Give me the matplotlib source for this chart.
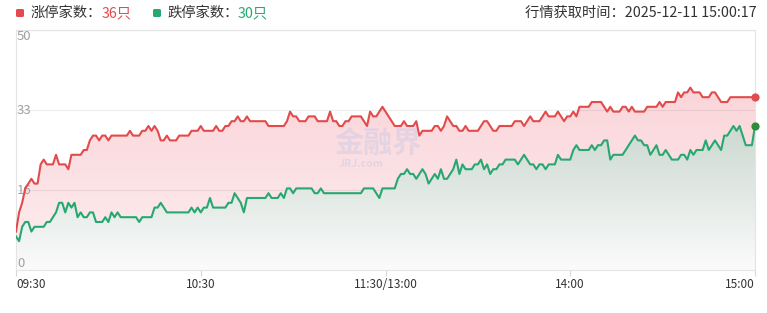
import numpy as np
import matplotlib.pyplot as plt
from matplotlib.patches import PathPatch, FancyBboxPatch
from matplotlib.transforms import IdentityTransform

plt.rcParams['font.family'] = ['Noto Sans CJK SC', 'DejaVu Sans']

# 涨停 / 跌停 家数, one value per trading minute (09:30-11:30, 13:00-15:00)
up_limit = [
    8, 12, 14, 17, 18, 19, 18, 18, 22, 23,
    22, 22, 22, 24, 22, 22, 22, 21, 24, 24,
    24, 24, 25, 25, 27, 28, 28, 27, 28, 28,
    27, 28, 28, 28, 28, 28, 28, 29, 28, 28,
    28, 29, 29, 30, 29, 30, 29, 27, 27, 28,
    27, 27, 27, 28, 28, 28, 28, 29, 29, 29,
    30, 29, 29, 29, 29, 30, 29, 29, 30, 30,
    31, 31, 32, 31, 31, 32, 31, 31, 31, 31,
    31, 31, 30, 30, 30, 30, 30, 30, 31, 33,
    32, 32, 31, 31, 31, 32, 32, 32, 31, 31,
    31, 31, 33, 31, 31, 30, 30, 31, 31, 32,
    32, 32, 32, 31, 30, 33, 32, 32, 33, 34,
    33, 32, 31, 30, 30, 30, 31, 30, 30, 30,
    31, 28, 29, 29, 29, 29, 30, 30, 29, 30,
    32, 31, 30, 30, 29, 29, 30, 29, 29, 29,
    29, 30, 31, 31, 30, 29, 29, 30, 30, 30,
    30, 30, 31, 31, 31, 30, 31, 32, 31, 31,
    31, 32, 33, 32, 32, 32, 33, 32, 31, 32,
    32, 33, 32, 34, 34, 34, 34, 35, 35, 35,
    35, 34, 33, 34, 33, 33, 33, 34, 34, 33,
    34, 33, 33, 33, 33, 34, 34, 34, 34, 35,
    34, 35, 35, 35, 35, 37, 36, 37, 37, 38,
    37, 37, 37, 36, 36, 36, 37, 37, 36, 35,
    35, 35, 36, 36, 36, 36, 36, 36, 36, 36,
    36,
]
down_limit = [
    7, 6, 9, 10, 10, 8, 9, 9, 9, 9,
    10, 10, 11, 12, 14, 14, 12, 14, 13, 14,
    11, 12, 11, 11, 12, 12, 10, 10, 10, 11,
    10, 12, 11, 12, 11, 11, 11, 11, 11, 11,
    10, 11, 11, 11, 11, 13, 13, 14, 13, 12,
    12, 12, 12, 12, 12, 12, 12, 13, 12, 13,
    12, 13, 13, 15, 13, 13, 13, 13, 13, 14,
    14, 16, 15, 14, 12, 15, 15, 15, 15, 15,
    15, 15, 16, 15, 15, 15, 16, 15, 17, 17,
    16, 17, 17, 17, 17, 17, 17, 16, 16, 17,
    16, 16, 16, 16, 16, 16, 16, 16, 16, 16,
    16, 16, 16, 17, 17, 17, 17, 16, 15, 17,
    17, 17, 17, 17, 19, 20, 20, 21, 20, 20,
    19, 20, 21, 20, 18, 19, 20, 19, 21, 19,
    19, 20, 21, 23, 20, 22, 21, 21, 21, 22,
    22, 23, 21, 22, 20, 21, 21, 22, 22, 23,
    23, 23, 23, 22, 23, 24, 23, 22, 22, 21,
    22, 22, 21, 22, 22, 22, 24, 23, 23, 23,
    23, 25, 26, 25, 25, 25, 25, 26, 25, 26,
    26, 27, 27, 23, 24, 24, 24, 24, 25, 26,
    27, 28, 27, 27, 26, 26, 24, 25, 26, 24,
    24, 25, 24, 23, 23, 23, 24, 24, 23, 25,
    24, 25, 25, 25, 27, 25, 26, 27, 26, 25,
    28, 28, 29, 30, 29, 30, 28, 26, 26, 26,
    30,
]
tick_pos = [0, 60, 120, 180, 240]
tick_labels = ['09:30', '10:30', '11:30/13:00', '14:00', '15:00']
y_ticks = [0, 50 / 3, 100 / 3, 50]
y_labels = ['0', '16', '33', '50']
update_time = '2025-12-11 15:00:17'

red = '#e24a4c'
green = '#27a870'
W, H = 767, 313

x = np.arange(len(up_limit))
up = np.array(up_limit)
down = np.array(down_limit)

fig = plt.figure(figsize=(W / 100, H / 100), dpi=100)
ax = fig.add_axes([16 / W, 43 / H, 739 / W, 240 / H])


def gradient_fill(y, top_rgba, bot_rgba, ytop, z):
    poly = ax.fill_between(x, y, 0, facecolor='none', edgecolor='none')
    patch = PathPatch(poly.get_paths()[0], transform=ax.transData,
                      facecolor='none', edgecolor='none')
    ax.add_patch(patch)
    t = np.linspace(0, 1, 256)[:, None, None]
    img = np.array(bot_rgba)[None, None, :] + t * (np.array(top_rgba) - np.array(bot_rgba))[None, None, :]
    im = ax.imshow(img, extent=[0, 240, 0, ytop], origin='lower', aspect='auto',
                   interpolation='bilinear', zorder=z)
    im.set_clip_path(patch)


gradient_fill(up, (0.93, 0.36, 0.42, 0.26), (0.93, 0.36, 0.42, 0.10), 38, 1)
gradient_fill(down, (0.80, 0.85, 0.82, 1.0), (0.985, 0.985, 0.985, 1.0), 30, 2)

ax.plot(x, up, color=red, lw=1.5, zorder=4)
ax.plot(x, down, color=green, lw=1.5, zorder=4)
ax.scatter([x[-1]], [up[-1]], s=24, color=red, zorder=5, clip_on=False)
ax.scatter([x[-1]], [down[-1]], s=24, color='#2e8b3a', zorder=5, clip_on=False)

ax.set_xlim(0, 240)
ax.set_ylim(0, 50)
for yv in y_ticks[1:]:
    ax.axhline(yv, color='#ececec', lw=0.8, zorder=0.5)
for s in ax.spines.values():
    s.set_color('#e4e4e4')
    s.set_linewidth(0.8)
ax.set_yticks([])
ax.set_xticks(tick_pos)
ax.set_xticklabels(tick_labels, fontsize=8.5, color='#333333')
ax.tick_params(axis='x', length=4, color='#d8d8d8', pad=2)
lbls = ax.get_xticklabels()
lbls[0].set_ha('left')
lbls[-1].set_ha('right')

vas = ['bottom', 'center', 'center', 'top']
for yv, lab, va in zip(y_ticks, y_labels, vas):
    ax.text(0.3, yv, lab, fontsize=9.5, color='#a0a0a0', va=va, ha='left', zorder=3)

ax.text(117.5, 26.3, '金融界', fontsize=21, fontweight='bold', color='#cfcbe6', alpha=0.5,
        ha='center', va='center', zorder=3)
ax.text(112, 22, 'JRJ.com', fontsize=7.5, fontweight='bold', color='#cfcbe6', alpha=0.55,
        ha='center', va='center', zorder=3)

yt = 1 - 13 / H
for px, c in [(16, red), (153, green)]:
    fig.add_artist(FancyBboxPatch((px, H - 17), 8, 8, boxstyle='round,pad=0,rounding_size=1.5',
                                  transform=IdentityTransform(), facecolor=c, edgecolor='none'))
fig.text(31 / W, yt, '涨停家数：', fontsize=10.3, color='#333333', va='center')
fig.text(102 / W, yt, f'{up[-1]}只', fontsize=10.3, color=red, va='center')
fig.text(167 / W, yt, '跌停家数：', fontsize=10.3, color='#333333', va='center')
fig.text(238 / W, yt, f'{down[-1]}只', fontsize=10.3, color=green, va='center')
fig.text(757 / W, yt, '行情获取时间：' + update_time, fontsize=10.3, color='#333333',
         va='center', ha='right')

fig.savefig('out.png', dpi=100)
